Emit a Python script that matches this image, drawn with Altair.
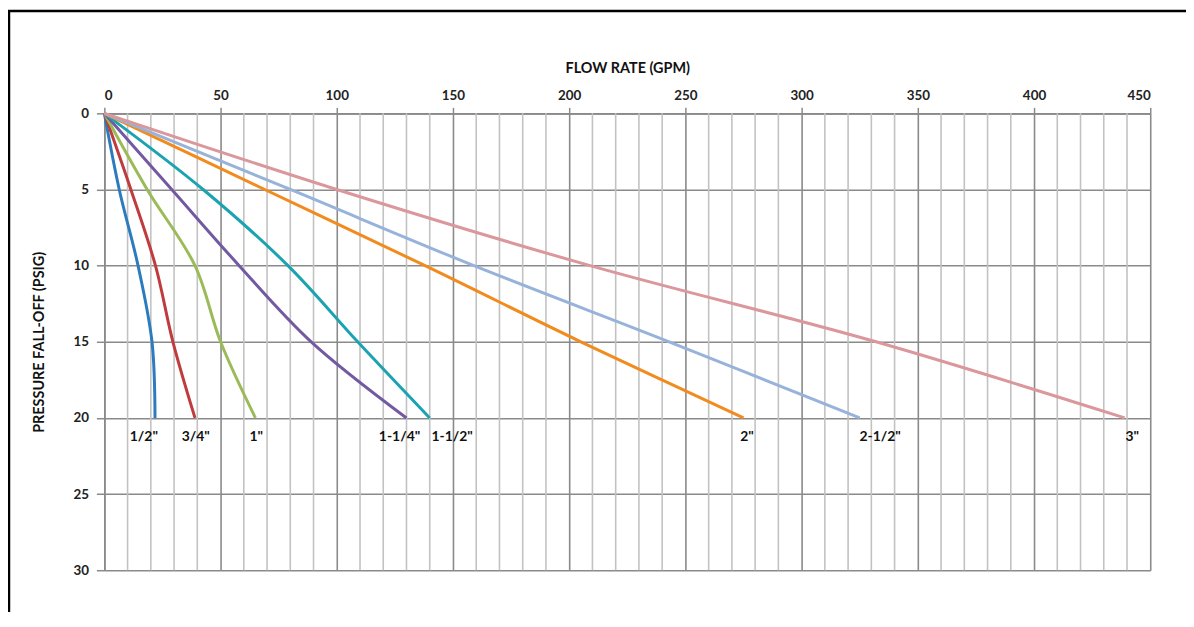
import altair as alt
import pandas as pd

# ---- data ----
sizes = ['1/2"', '3/4"', '1"', '1-1/4"', '1-1/2"', '2"', '2-1/2"', '3"']
colors = ["#2B7BBE", "#BF3B3D", "#9BBB59", "#7259A1", "#1BA3B1", "#F28B1E", "#97B3DA", "#DA979C"]
pressure = [0, 5, 10, 15, 20]
flow_half = [0, 6.4, 14.5, 20.5, 21.8]
flow_three_quarter = [0, 11.4, 22, 29.5, 39]
flow_one = [0, 18.4, 39, 50, 65]
flow_one_quarter = [0, 29, 58, 89, 130]
flow_one_half = [0, 42.5, 79, 109, 140]
flow_two = [0, 69, 138, 205, 275]
flow_two_half = [0, 80, 159, 243, 325]
flow_three = [0, 100, 209, 332, 439]
label_flow = [17, 39.3, 65.4, 127, 149.6, 276.5, 333.8, 442.3]
label_pressure = 21.25

major_x_ticks = list(range(0, 451, 50))
minor_x_ticks = [v for v in range(10, 450, 10) if v % 50 != 0]
y_ticks = [0, 5, 10, 15, 20, 25, 30]

series = [flow_half, flow_three_quarter, flow_one, flow_one_quarter,
          flow_one_half, flow_two, flow_two_half, flow_three]
rows = []
for name, flows in zip(sizes, series):
    for p, f in zip(pressure, flows):
        rows.append({"size": name, "pressure": p, "flow": f})
df = pd.DataFrame(rows)
labels_df = pd.DataFrame({"size": sizes, "flow": label_flow,
                          "pressure": [label_pressure] * len(sizes)})
minor_df = pd.DataFrame({"flow": minor_x_ticks})

MAJOR = "#8a8a8a"
MINOR = "#c2c2c2"
FONT = "Lato"

x_scale = alt.Scale(domain=[0, 450], nice=False, zero=True)
y_scale = alt.Scale(domain=[0, 30], nice=False, reverse=True)

x_axis = alt.Axis(
    orient="top",
    values=major_x_ticks,
    labelOverlap=False,
    title="FLOW RATE (GPM)",
    titleFont=FONT, titleFontWeight="bold", titleFontSize=14.5, titleColor="#111",
    titlePadding=13,
    labelFont=FONT, labelFontWeight="bold", labelFontSize=13.5, labelColor="#222",
    labelPadding=5,
    grid=True, gridColor=MAJOR, gridWidth=1.6,
    tickColor=MAJOR, tickSize=6, tickWidth=1.5,
    domainColor=MAJOR, domainWidth=1.6,
)
y_axis = alt.Axis(
    orient="left",
    values=y_ticks,
    title="PRESSURE FALL-OFF (PSIG)",
    titleFont=FONT, titleFontWeight="bold", titleFontSize=14.5, titleColor="#111",
    titlePadding=27,
    labelFont=FONT, labelFontWeight="bold", labelFontSize=13.5, labelColor="#222",
    labelPadding=8,
    grid=True, gridColor=MAJOR, gridWidth=1.6,
    tickColor=MAJOR, tickSize=8, tickWidth=1.5,
    domainColor=MAJOR, domainWidth=1.6,
)

color_scale = alt.Scale(domain=sizes, range=colors)

minor_grid = alt.Chart(minor_df).mark_rule(color=MINOR, strokeWidth=1.6).encode(
    x=alt.X("flow:Q", scale=x_scale, axis=x_axis),
)

lines = alt.Chart(df).mark_line(strokeWidth=3, interpolate="catmull-rom").encode(
    x=alt.X("flow:Q", scale=x_scale, axis=x_axis),
    y=alt.Y("pressure:Q", scale=y_scale, axis=y_axis),
    color=alt.Color("size:N", scale=color_scale, legend=None),
    detail="size:N",
    order="pressure:Q",
)

texts = alt.Chart(labels_df).mark_text(
    font=FONT, fontWeight="bold", fontSize=14, color="#111", baseline="middle", align="center"
).encode(
    x=alt.X("flow:Q", scale=x_scale),
    y=alt.Y("pressure:Q", scale=y_scale),
    text="size:N",
)

frame_left = alt.Chart(pd.DataFrame({"a": [0]})).mark_rule(color="#000", strokeWidth=2.5).encode(
    x=alt.value(-96), y=alt.value(-103), y2=alt.value(520)
)
frame_top = alt.Chart(pd.DataFrame({"a": [0]})).mark_rule(color="#000", strokeWidth=2.5).encode(
    x=alt.value(-97), x2=alt.value(1090), y=alt.value(-103)
)

chart = alt.layer(minor_grid, lines, texts, frame_left, frame_top).properties(
    width=1053, height=460,
    autosize=alt.AutoSizeParams(type="none"),
    padding={"left": 97, "top": 104, "right": 36, "bottom": 40},
    background="white",
).configure_view(stroke=None)

chart.save("out.html", embed_options={"renderer": "svg", "actions": False})
